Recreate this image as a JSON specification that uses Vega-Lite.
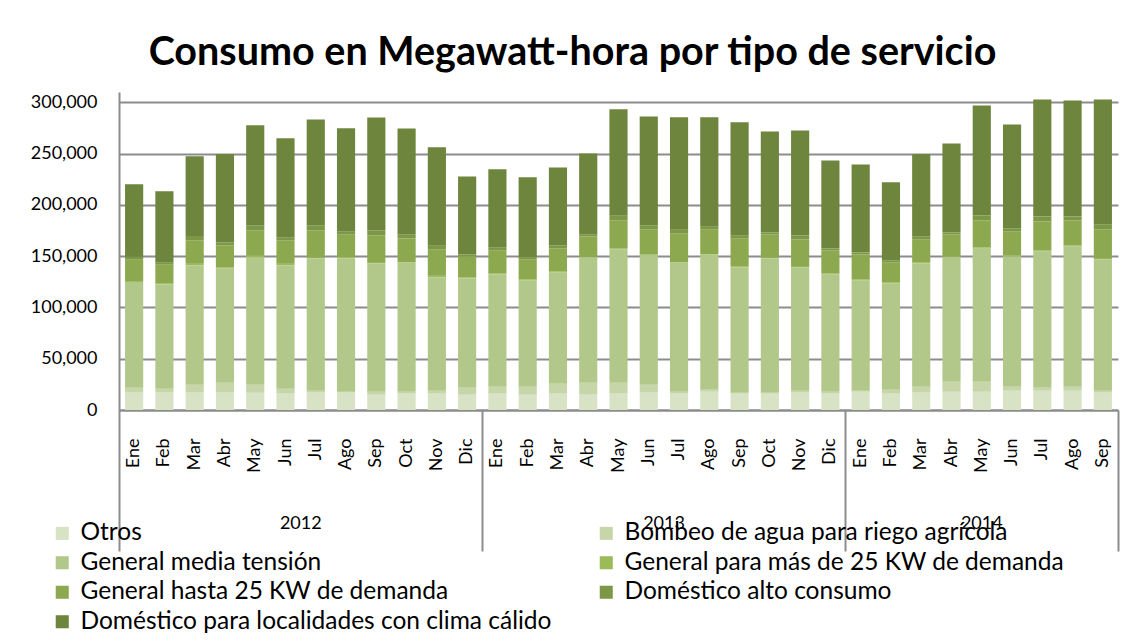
{
  "$schema": "https://vega.github.io/schema/vega-lite/v6.json",
  "width": 999,
  "height": 318,
  "autosize": {"type": "none"},
  "padding": {"left": 119, "top": 92, "right": 5, "bottom": 232},
  "background": "white",
  "config": {"view": {"stroke": null}, "font": "Lato"},
  "title": {"text": "Consumo en Megawatt-hora por tipo de servicio", "font": "Lato", "fontSize": 39.5, "fontWeight": "bold", "color": "#000000", "anchor": "middle", "dx": -46, "offset": 19},
  "datasets": {
    "series": [
      {"serie": "Otros", "orden": 1},
      {"serie": "Bombeo de agua para riego agrícola", "orden": 2},
      {"serie": "General media tensión", "orden": 3},
      {"serie": "General para más de 25 KW de demanda", "orden": 4},
      {"serie": "General hasta 25 KW de demanda", "orden": 5},
      {"serie": "Doméstico alto consumo", "orden": 6},
      {"serie": "Doméstico para localidades con clima cálido", "orden": 7}
    ]
  },
  "data": {"values": [
    {"periodo": "2012-Ene", "Otros": 16900, "Bombeo de agua para riego agrícola": 4900, "General media tensión": 102900, "General para más de 25 KW de demanda": 1000, "General hasta 25 KW de demanda": 21400, "Doméstico alto consumo": 2300, "Doméstico para localidades con clima cálido": 70700},
    {"periodo": "2012-Feb", "Otros": 16900, "Bombeo de agua para riego agrícola": 3900, "General media tensión": 101900, "General para más de 25 KW de demanda": 1000, "General hasta 25 KW de demanda": 18500, "Doméstico alto consumo": 1900, "Doméstico para localidades con clima cálido": 69100},
    {"periodo": "2012-Mar", "Otros": 16900, "Bombeo de agua para riego agrícola": 7800, "General media tensión": 116500, "General para más de 25 KW de demanda": 1300, "General hasta 25 KW de demanda": 23000, "Doméstico alto consumo": 4200, "Doméstico para localidades con clima cálido": 77600},
    {"periodo": "2012-Abr", "Otros": 16900, "Bombeo de agua para riego agrícola": 9700, "General media tensión": 111600, "General para más de 25 KW de demanda": 1000, "General hasta 25 KW de demanda": 21400, "Doméstico alto consumo": 2900, "Doméstico para localidades con clima cálido": 86000},
    {"periodo": "2012-May", "Otros": 16900, "Bombeo de agua para riego agrícola": 7800, "General media tensión": 124300, "General para más de 25 KW de demanda": 1300, "General hasta 25 KW de demanda": 25000, "Doméstico alto consumo": 4900, "Doméstico para localidades con clima cálido": 97400},
    {"periodo": "2012-Jun", "Otros": 15900, "Bombeo de agua para riego agrícola": 4900, "General media tensión": 120400, "General para más de 25 KW de demanda": 1300, "General hasta 25 KW de demanda": 23000, "Doméstico alto consumo": 2300, "Doméstico para localidades con clima cálido": 97000},
    {"periodo": "2012-Jul", "Otros": 16900, "Bombeo de agua para riego agrícola": 1900, "General media tensión": 129200, "General para más de 25 KW de demanda": 300, "General hasta 25 KW de demanda": 26900, "Doméstico alto consumo": 4900, "Doméstico para localidades con clima cálido": 103200},
    {"periodo": "2012-Ago", "Otros": 16900, "Bombeo de agua para riego agrícola": 1000, "General media tensión": 130100, "General para más de 25 KW de demanda": 1000, "General hasta 25 KW de demanda": 22400, "Doméstico alto consumo": 2900, "Doméstico para localidades con clima cálido": 100300},
    {"periodo": "2012-Sep", "Otros": 14900, "Bombeo de agua para riego agrícola": 2900, "General media tensión": 125300, "General para más de 25 KW de demanda": 300, "General hasta 25 KW de demanda": 26900, "Doméstico alto consumo": 4900, "Doméstico para localidades con clima cálido": 110000},
    {"periodo": "2012-Oct", "Otros": 15900, "Bombeo de agua para riego agrícola": 1900, "General media tensión": 126200, "General para más de 25 KW de demanda": 300, "General hasta 25 KW de demanda": 23000, "Doméstico alto consumo": 3900, "Doméstico para localidades con clima cálido": 103200},
    {"periodo": "2012-Nov", "Otros": 15900, "Bombeo de agua para riego agrícola": 2900, "General media tensión": 110700, "General para más de 25 KW de demanda": 1300, "General hasta 25 KW de demanda": 26000, "Doméstico alto consumo": 3900, "Doméstico para localidades con clima cálido": 95400},
    {"periodo": "2012-Dic", "Otros": 14900, "Bombeo de agua para riego agrícola": 6800, "General media tensión": 106800, "General para más de 25 KW de demanda": 600, "General hasta 25 KW de demanda": 20800, "Doméstico alto consumo": 1900, "Doméstico para localidades con clima cálido": 75900},
    {"periodo": "2013-Ene", "Otros": 15900, "Bombeo de agua para riego agrícola": 6800, "General media tensión": 109700, "General para más de 25 KW de demanda": 1000, "General hasta 25 KW de demanda": 22400, "Doméstico alto consumo": 2900, "Doméstico para localidades con clima cálido": 75900},
    {"periodo": "2013-Feb", "Otros": 14900, "Bombeo de agua para riego agrícola": 7800, "General media tensión": 103800, "General para más de 25 KW de demanda": 1000, "General hasta 25 KW de demanda": 19500, "Doméstico alto consumo": 1900, "Doméstico para localidades con clima cálido": 77900},
    {"periodo": "2013-Mar", "Otros": 15900, "Bombeo de agua para riego agrícola": 9700, "General media tensión": 108700, "General para más de 25 KW de demanda": 1000, "General hasta 25 KW de demanda": 22400, "Doméstico alto consumo": 2900, "Doméstico para localidades con clima cálido": 75900},
    {"periodo": "2013-Abr", "Otros": 14900, "Bombeo de agua para riego agrícola": 11700, "General media tensión": 122300, "General para más de 25 KW de demanda": 300, "General hasta 25 KW de demanda": 20100, "Doméstico alto consumo": 1900, "Doméstico para localidades con clima cálido": 78900},
    {"periodo": "2013-May", "Otros": 15900, "Bombeo de agua para riego agrícola": 10700, "General media tensión": 130100, "General para más de 25 KW de demanda": 1000, "General hasta 25 KW de demanda": 27300, "Doméstico alto consumo": 4900, "Doméstico para localidades con clima cálido": 103200},
    {"periodo": "2013-Jun", "Otros": 16900, "Bombeo de agua para riego agrícola": 7800, "General media tensión": 126200, "General para más de 25 KW de demanda": 1000, "General hasta 25 KW de demanda": 24300, "Doméstico alto consumo": 3900, "Doméstico para localidades con clima cálido": 106100},
    {"periodo": "2013-Jul", "Otros": 15900, "Bombeo de agua para riego agrícola": 1900, "General media tensión": 126200, "General para más de 25 KW de demanda": 200, "General hasta 25 KW de demanda": 28200, "Doméstico alto consumo": 3900, "Doméstico para localidades con clima cálido": 109000},
    {"periodo": "2013-Ago", "Otros": 17800, "Bombeo de agua para riego agrícola": 1900, "General media tensión": 132100, "General para más de 25 KW de demanda": 200, "General hasta 25 KW de demanda": 24300, "Doméstico alto consumo": 2900, "Doméstico para localidades con clima cálido": 106100},
    {"periodo": "2013-Sep", "Otros": 15900, "Bombeo de agua para riego agrícola": 1000, "General media tensión": 122300, "General para más de 25 KW de demanda": 1000, "General hasta 25 KW de demanda": 27300, "Doméstico alto consumo": 2900, "Doméstico para localidades con clima cálido": 110000},
    {"periodo": "2013-Oct", "Otros": 15900, "Bombeo de agua para riego agrícola": 1000, "General media tensión": 131100, "General para más de 25 KW de demanda": 300, "General hasta 25 KW de demanda": 23000, "Doméstico alto consumo": 1900, "Doméstico para localidades con clima cálido": 98300},
    {"periodo": "2013-Nov", "Otros": 16900, "Bombeo de agua para riego agrícola": 1900, "General media tensión": 120400, "General para más de 25 KW de demanda": 300, "General hasta 25 KW de demanda": 26900, "Doméstico alto consumo": 3900, "Doméstico para localidades con clima cálido": 102200},
    {"periodo": "2013-Dic", "Otros": 15900, "Bombeo de agua para riego agrícola": 1900, "General media tensión": 114500, "General para más de 25 KW de demanda": 1000, "General hasta 25 KW de demanda": 22400, "Doméstico alto consumo": 1900, "Doméstico para localidades con clima cálido": 85700},
    {"periodo": "2014-Ene", "Otros": 17800, "Bombeo de agua para riego agrícola": 1000, "General media tensión": 107700, "General para más de 25 KW de demanda": 1000, "General hasta 25 KW de demanda": 24300, "Doméstico alto consumo": 1900, "Doméstico para localidades con clima cálido": 85700},
    {"periodo": "2014-Feb", "Otros": 15900, "Bombeo de agua para riego agrícola": 3900, "General media tensión": 103800, "General para más de 25 KW de demanda": 1000, "General hasta 25 KW de demanda": 19500, "Doméstico alto consumo": 1900, "Doméstico para localidades con clima cálido": 75900},
    {"periodo": "2014-Mar", "Otros": 16900, "Bombeo de agua para riego agrícola": 5800, "General media tensión": 120400, "General para más de 25 KW de demanda": 1000, "General hasta 25 KW de demanda": 22400, "Doméstico alto consumo": 2900, "Doméstico para localidades con clima cálido": 80200},
    {"periodo": "2014-Abr", "Otros": 17800, "Bombeo de agua para riego agrícola": 9700, "General media tensión": 121400, "General para más de 25 KW de demanda": 1000, "General hasta 25 KW de demanda": 21400, "Doméstico alto consumo": 1900, "Doméstico para localidades con clima cálido": 86600},
    {"periodo": "2014-May", "Otros": 17800, "Bombeo de agua para riego agrícola": 9700, "General media tensión": 130100, "General para más de 25 KW de demanda": 1000, "General hasta 25 KW de demanda": 26300, "Doméstico alto consumo": 4900, "Doméstico para localidades con clima cálido": 107100},
    {"periodo": "2014-Jun", "Otros": 18800, "Bombeo de agua para riego agrícola": 3900, "General media tensión": 127200, "General para más de 25 KW de demanda": 1000, "General hasta 25 KW de demanda": 23400, "Doméstico alto consumo": 2900, "Doméstico para localidades con clima cálido": 101200},
    {"periodo": "2014-Jul", "Otros": 18800, "Bombeo de agua para riego agrícola": 2900, "General media tensión": 133000, "General para más de 25 KW de demanda": 1000, "General hasta 25 KW de demanda": 28200, "Doméstico alto consumo": 4900, "Doméstico para localidades con clima cálido": 113900},
    {"periodo": "2014-Ago", "Otros": 18800, "Bombeo de agua para riego agrícola": 3900, "General media tensión": 136900, "General para más de 25 KW de demanda": 1000, "General hasta 25 KW de demanda": 24300, "Doméstico alto consumo": 3900, "Doméstico para localidades con clima cálido": 112900},
    {"periodo": "2014-Sep", "Otros": 16900, "Bombeo de agua para riego agrícola": 1900, "General media tensión": 128200, "General para más de 25 KW de demanda": 300, "General hasta 25 KW de demanda": 28900, "Doméstico alto consumo": 4900, "Doméstico para localidades con clima cálido": 121700}
  ]},
  "resolve": {"axis": {"x": "independent"}},
  "layer": [
    {
      "transform": [
        {"fold": ["Otros", "Bombeo de agua para riego agrícola", "General media tensión", "General para más de 25 KW de demanda", "General hasta 25 KW de demanda", "Doméstico alto consumo", "Doméstico para localidades con clima cálido"], "as": ["serie", "valor"]},
        {"lookup": "serie", "from": {"data": {"name": "series"}, "key": "serie", "fields": ["orden"]}}
      ],
      "mark": {"type": "bar", "width": {"band": 0.6}},
      "encoding": {
        "x": {"field": "periodo", "type": "nominal", "sort": null,
          "scale": {"type": "band", "paddingInner": 0, "paddingOuter": 0},
          "axis": {"orient": "bottom", "title": null, "labelExpr": "split(datum.value, '-')[1]", "labelAngle": -90, "labelFont": "Lato", "labelFontSize": 18, "labelColor": "#000000", "labelPadding": 28, "ticks": false, "domainColor": "#8c8c8c", "domainWidth": 2, "grid": false}},
        "y": {"field": "valor", "type": "quantitative", "stack": "zero",
          "scale": {"domain": [0, 310000], "nice": false},
          "axis": {"title": null, "values": [0, 50000, 100000, 150000, 200000, 250000, 300000], "format": ",d", "labelFont": "Lato", "labelFontSize": 18, "labelColor": "#000000", "labelPadding": 22, "ticks": false, "domainColor": "#8c8c8c", "domainWidth": 2, "gridColor": "#8c8c8c", "gridWidth": 2}},
        "order": {"field": "orden", "type": "quantitative", "sort": "ascending"},
        "color": {"field": "serie", "type": "nominal",
          "sort": ["Otros", "Bombeo de agua para riego agrícola", "General media tensión", "General para más de 25 KW de demanda", "General hasta 25 KW de demanda", "Doméstico alto consumo", "Doméstico para localidades con clima cálido"],
          "scale": {"domain": ["Otros", "Bombeo de agua para riego agrícola", "General media tensión", "General para más de 25 KW de demanda", "General hasta 25 KW de demanda", "Doméstico alto consumo", "Doméstico para localidades con clima cálido"],
                    "range": ["#D8E3C6", "#C6D6A9", "#B2C88B", "#9BBB59", "#8DA94F", "#7C9847", "#6E853D"]},
          "legend": {"orient": "none", "legendX": -69, "legendY": 429, "direction": "horizontal", "columns": 2, "title": null, "symbolType": "square", "symbolSize": 170, "symbolStrokeWidth": 0, "labelFont": "Lato", "labelFontSize": 24.5, "labelColor": "#000000", "labelOffset": 6, "rowPadding": 4.5, "columnPadding": 42, "labelLimit": 0, "padding": 0}}
      }
    },
    {
      "mark": {"type": "bar", "opacity": 0},
      "encoding": {
        "x": {"field": "periodo", "type": "nominal", "sort": null,
          "scale": {"type": "band", "paddingInner": 0, "paddingOuter": 0},
          "axis": {"orient": "bottom", "title": null, "values": ["2012-Jul", "2013-Jul", "2014-May"], "labelExpr": "slice(datum.value, 0, 4)", "labelAngle": 0, "labelFont": "Lato", "labelFontSize": 18, "labelColor": "#000000", "labelPadding": 104, "labelOffset": {"condition": {"test": "datum.value === '2014-May'", "value": 0}, "value": -15}, "ticks": false, "domain": false, "grid": false}}
      }
    },
    {
      "mark": {"type": "bar", "opacity": 0},
      "encoding": {
        "x": {"field": "periodo", "type": "nominal", "sort": null,
          "scale": {"type": "band", "paddingInner": 0, "paddingOuter": 0},
          "axis": {"orient": "bottom", "title": null, "values": ["2012-Ene", "2013-Ene", "2014-Ene"], "bandPosition": 0, "labels": false, "domain": false, "grid": false, "ticks": true, "tickSize": 141, "tickColor": "#8c8c8c", "tickWidth": 2}}
      }
    },
    {
      "mark": {"type": "bar", "opacity": 0},
      "encoding": {
        "x": {"field": "periodo", "type": "nominal", "sort": null,
          "scale": {"type": "band", "paddingInner": 0, "paddingOuter": 0},
          "axis": {"orient": "bottom", "title": null, "values": ["2014-Sep"], "bandPosition": 1, "labels": false, "domain": false, "grid": false, "ticks": true, "tickSize": 141, "tickColor": "#8c8c8c", "tickWidth": 2}}
      }
    }
  ]
}
